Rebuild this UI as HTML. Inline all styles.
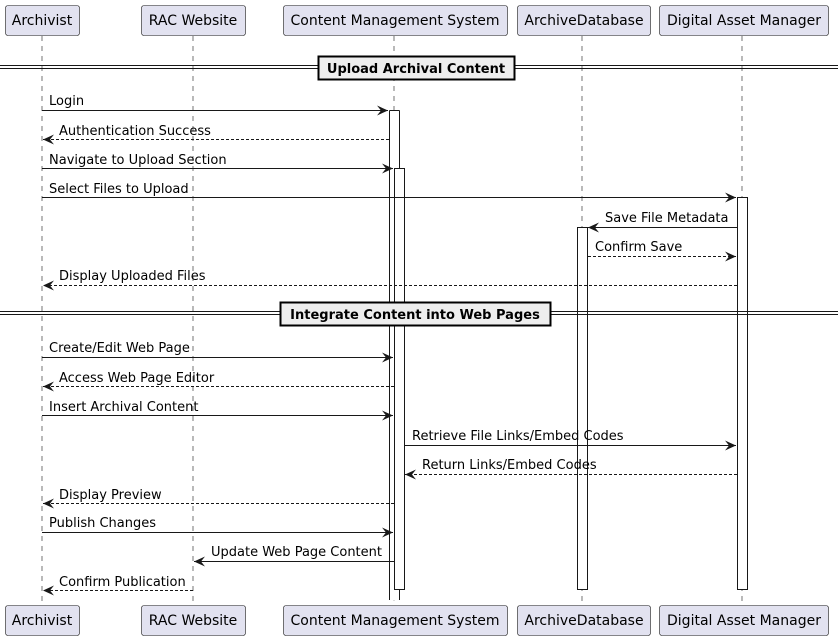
<!DOCTYPE html>
<html><head><meta charset="utf-8"><style>
html,body{margin:0;padding:0;background:#fff;}
svg{display:block;}
text{font-family:"DejaVu Sans","Liberation Sans",sans-serif;font-size:13px;fill:#000;}
.b{font-weight:bold;}
</style></head><body>
<svg width="838" height="642" viewBox="0 0 838 642" xmlns="http://www.w3.org/2000/svg">
<defs>
<marker id="ah" markerWidth="12" markerHeight="10" refX="11" refY="5" orient="auto" markerUnits="userSpaceOnUse">
<path d="M0,0 L11,5 L0,10 L4,5 Z" fill="#181818"/>
</marker>
</defs>
<g stroke="#181818" stroke-width="0.6" stroke-dasharray="5,5">
<line x1="42" y1="36" x2="42" y2="605"/>
<line x1="193" y1="36" x2="193" y2="605"/>
<line x1="394" y1="36" x2="394" y2="605"/>
<line x1="582" y1="36" x2="582" y2="605"/>
<line x1="742" y1="36" x2="742" y2="605"/>
</g>
<rect x="389.5" y="110.5" width="10" height="490" fill="#fff" stroke="none"/>
<g stroke="#181818" stroke-width="1">
<line x1="389.5" y1="110.5" x2="399.5" y2="110.5"/>
<line x1="389.5" y1="110.5" x2="389.5" y2="600"/>
<line x1="399.5" y1="110.5" x2="399.5" y2="600"/>
</g>
<g fill="#fff" stroke="#181818" stroke-width="1">
<rect x="394.5" y="168.5" width="10" height="421"/>
<rect x="577.5" y="227.5" width="10" height="362"/>
<rect x="737.5" y="197.5" width="10" height="392"/>
</g>
<g fill="#E2E2F0" stroke="#181818" stroke-width="0.6">
<rect x="5.5" y="5.5" width="74" height="30" rx="2.5"/>
<rect x="141.5" y="5.5" width="104" height="30" rx="2.5"/>
<rect x="283.5" y="5.5" width="224" height="30" rx="2.5"/>
<rect x="517.5" y="5.5" width="133" height="30" rx="2.5"/>
<rect x="659.5" y="5.5" width="169" height="30" rx="2.5"/>
<rect x="5.5" y="605.5" width="74" height="30" rx="2.5"/>
<rect x="141.5" y="605.5" width="104" height="30" rx="2.5"/>
<rect x="283.5" y="605.5" width="224" height="30" rx="2.5"/>
<rect x="517.5" y="605.5" width="133" height="30" rx="2.5"/>
<rect x="659.5" y="605.5" width="169" height="30" rx="2.5"/>
</g>
<g>
<text x="42" y="25" text-anchor="middle" style="font-size:14px">Archivist</text>
<text x="193" y="25" text-anchor="middle" style="font-size:14px">RAC Website</text>
<text x="395" y="25" text-anchor="middle" style="font-size:14px">Content Management System</text>
<text x="584" y="25" text-anchor="middle" style="font-size:14px">ArchiveDatabase</text>
<text x="744" y="25" text-anchor="middle" style="font-size:14px">Digital Asset Manager</text>
<text x="42" y="625" text-anchor="middle" style="font-size:14px">Archivist</text>
<text x="193" y="625" text-anchor="middle" style="font-size:14px">RAC Website</text>
<text x="395" y="625" text-anchor="middle" style="font-size:14px">Content Management System</text>
<text x="584" y="625" text-anchor="middle" style="font-size:14px">ArchiveDatabase</text>
<text x="744" y="625" text-anchor="middle" style="font-size:14px">Digital Asset Manager</text>
</g>
<g stroke="#181818" stroke-width="1">
<line x1="0" y1="65.5" x2="838" y2="65.5"/>
<line x1="0" y1="68.5" x2="838" y2="68.5"/>
<line x1="0" y1="311.5" x2="838" y2="311.5"/>
<line x1="0" y1="314.5" x2="838" y2="314.5"/>
</g>
<rect x="318.5" y="56.5" width="196" height="23" fill="#EEEEEE" stroke="#000" stroke-width="2"/>
<text x="416" y="73" text-anchor="middle" class="b">Upload Archival Content</text>
<rect x="280.5" y="302.5" width="270" height="23" fill="#EEEEEE" stroke="#000" stroke-width="2"/>
<text x="415" y="319" text-anchor="middle" class="b">Integrate Content into Web Pages</text>
<g stroke="#181818" stroke-width="1" fill="none">
<line x1="42" y1="110.5" x2="388" y2="110.5" marker-end="url(#ah)"/>
<line x1="389" y1="139.5" x2="43" y2="139.5" stroke-dasharray="3,2" marker-end="url(#ah)"/>
<line x1="42" y1="168.5" x2="393" y2="168.5" marker-end="url(#ah)"/>
<line x1="42" y1="197.5" x2="736" y2="197.5" marker-end="url(#ah)"/>
<line x1="737" y1="227.5" x2="588" y2="227.5" marker-end="url(#ah)"/>
<line x1="588" y1="256.5" x2="736" y2="256.5" stroke-dasharray="3,2" marker-end="url(#ah)"/>
<line x1="737" y1="285.5" x2="43" y2="285.5" stroke-dasharray="3,2" marker-end="url(#ah)"/>
<line x1="42" y1="357.5" x2="393" y2="357.5" marker-end="url(#ah)"/>
<line x1="394" y1="386.5" x2="43" y2="386.5" stroke-dasharray="3,2" marker-end="url(#ah)"/>
<line x1="42" y1="415.5" x2="393" y2="415.5" marker-end="url(#ah)"/>
<line x1="405" y1="445.5" x2="736" y2="445.5" marker-end="url(#ah)"/>
<line x1="737" y1="474.5" x2="405" y2="474.5" stroke-dasharray="3,2" marker-end="url(#ah)"/>
<line x1="394" y1="503.5" x2="43" y2="503.5" stroke-dasharray="3,2" marker-end="url(#ah)"/>
<line x1="42" y1="532.5" x2="393" y2="532.5" marker-end="url(#ah)"/>
<line x1="394" y1="561.5" x2="194" y2="561.5" marker-end="url(#ah)"/>
<line x1="193" y1="590.5" x2="43" y2="590.5" stroke-dasharray="3,2" marker-end="url(#ah)"/>
</g>
<text x="49" y="105">Login</text>
<text x="59" y="135">Authentication Success</text>
<text x="49" y="164">Navigate to Upload Section</text>
<text x="49" y="193">Select Files to Upload</text>
<text x="605" y="222">Save File Metadata</text>
<text x="595" y="251">Confirm Save</text>
<text x="59" y="280">Display Uploaded Files</text>
<text x="49" y="352">Create/Edit Web Page</text>
<text x="59" y="382">Access Web Page Editor</text>
<text x="49" y="411">Insert Archival Content</text>
<text x="412" y="440">Retrieve File Links/Embed Codes</text>
<text x="422" y="469">Return Links/Embed Codes</text>
<text x="59" y="499">Display Preview</text>
<text x="49" y="527">Publish Changes</text>
<text x="211" y="556">Update Web Page Content</text>
<text x="59" y="586">Confirm Publication</text>
</svg>
</body></html>
